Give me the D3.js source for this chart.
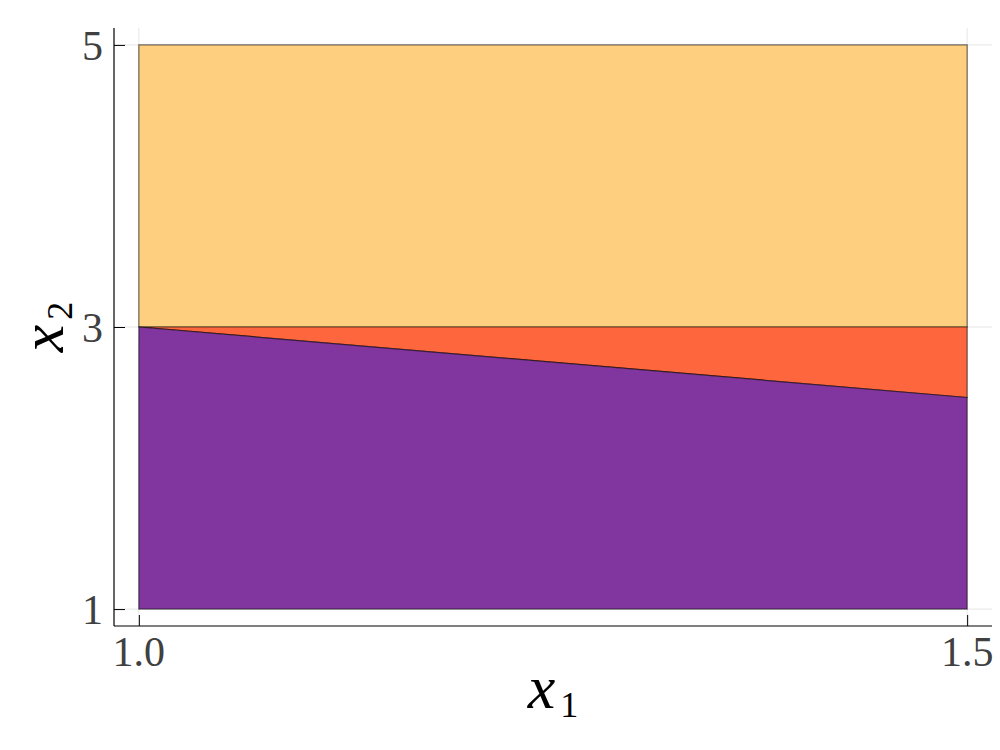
<!DOCTYPE html>
<html>
<head>
<meta charset="utf-8">
<script src="https://cdn.jsdelivr.net/npm/d3@7"></script>
<style>
  body { margin: 0; background: #fff; }
</style>
</head>
<body>
<script>
// ---- data ----
var xDomain = [0.985, 1.515],
    yDomain = [0.88, 5.12];
var xTicks = [1.0, 1.5],
    yTicks = [1, 3, 5];

// polygon corners for each region (x and y kept apart)
var regionNames  = ["upper", "wedge", "lower"];
var regionX      = [[1.0, 1.5, 1.5, 1.0], [1.0, 1.5, 1.5], [1.0, 1.5, 1.5, 1.0]];
var regionY      = [[3, 3, 5, 5],         [3, 3, 2.5],     [1, 1, 2.5, 3]];
var regionColors = ["#fdcf7f", "#fe673d", "#80369e"];

// ---- layout ----
var W = 1000, H = 750;
var plotL = 114, plotR = 992, plotT = 28, plotB = 626;
var serif = "\"Liberation Serif\", \"DejaVu Serif\", serif";

var svg = d3.select("body").append("svg")
    .attr("width", W)
    .attr("height", H);

var x = d3.scaleLinear().domain(xDomain).range([plotL, plotR]);
var y = d3.scaleLinear().domain(yDomain).range([plotB, plotT]);

// grid lines
svg.append("g").selectAll("line").data(xTicks).enter().append("line")
    .attr("x1", function(d) { return x(d); }).attr("x2", function(d) { return x(d); })
    .attr("y1", plotT).attr("y2", plotB)
    .attr("stroke", "#000").attr("stroke-opacity", 0.1).attr("stroke-width", 1);
svg.append("g").selectAll("line").data(yTicks).enter().append("line")
    .attr("y1", function(d) { return y(d); }).attr("y2", function(d) { return y(d); })
    .attr("x1", plotL).attr("x2", plotR)
    .attr("stroke", "#000").attr("stroke-opacity", 0.1).attr("stroke-width", 1);

// regions
var line = d3.line();
svg.append("g").selectAll("path")
    .data(regionNames)
    .enter().append("path")
    .attr("d", function(d, i) {
        var pts = regionX[i].map(function(v, j) { return [x(v), y(regionY[i][j])]; });
        return line(pts) + "Z";
    })
    .attr("fill", function(d, i) { return regionColors[i]; })
    .attr("stroke", "#000")
    .attr("stroke-opacity", 0.55)
    .attr("stroke-width", 1.2);

// axes (ticks point inward, labels drawn separately)
var xAxis = svg.append("g")
    .attr("transform", "translate(0," + plotB + ")")
    .call(d3.axisBottom(x).tickValues(xTicks).tickSizeInner(-11).tickSizeOuter(0).tickFormat(""));
var yAxis = svg.append("g")
    .attr("transform", "translate(" + plotL + ",0)")
    .call(d3.axisLeft(y).tickValues(yTicks).tickSizeInner(-11).tickSizeOuter(0).tickFormat(""));
[xAxis, yAxis].forEach(function(a) {
    a.select(".domain").attr("stroke", "#000").attr("stroke-width", 1.2);
    a.selectAll(".tick line").attr("stroke", "#000").attr("stroke-width", 1);
});
xAxis.select(".domain").attr("d", "M" + plotL + ",0H" + plotR);
yAxis.select(".domain").attr("d", "M0," + plotT + "V" + plotB);

// tick labels
svg.append("g").selectAll("text").data(xTicks).enter().append("text")
    .attr("x", function(d) { return x(d); })
    .attr("y", 666)
    .attr("text-anchor", "middle")
    .attr("font-family", serif)
    .attr("font-size", 42)
    .attr("fill", "#404040")
    .text(d3.format(".1f"));
svg.append("g").selectAll("text").data(yTicks).enter().append("text")
    .attr("x", 103)
    .attr("y", function(d) { return y(d) + 15; })
    .attr("text-anchor", "end")
    .attr("font-family", serif)
    .attr("font-size", 42)
    .attr("fill", "#404040")
    .text(d3.format("d"));

// axis labels
function axisLabel(sel, sub) {
    sel.attr("text-anchor", "middle")
        .attr("font-family", serif)
        .attr("font-size", 62)
        .attr("fill", "#000");
    sel.append("tspan").attr("font-style", "italic").text("x");
    sel.append("tspan").attr("font-size", 36).attr("dx", 5).attr("dy", 9).text(sub);
}
axisLabel(svg.append("text")
    .attr("x", (plotL + plotR) / 2)
    .attr("y", 708), "1");
axisLabel(svg.append("text")
    .attr("transform", "translate(63," + (plotT + plotB) / 2 + ") rotate(-90)"), "2");
</script>
</body>
</html>
